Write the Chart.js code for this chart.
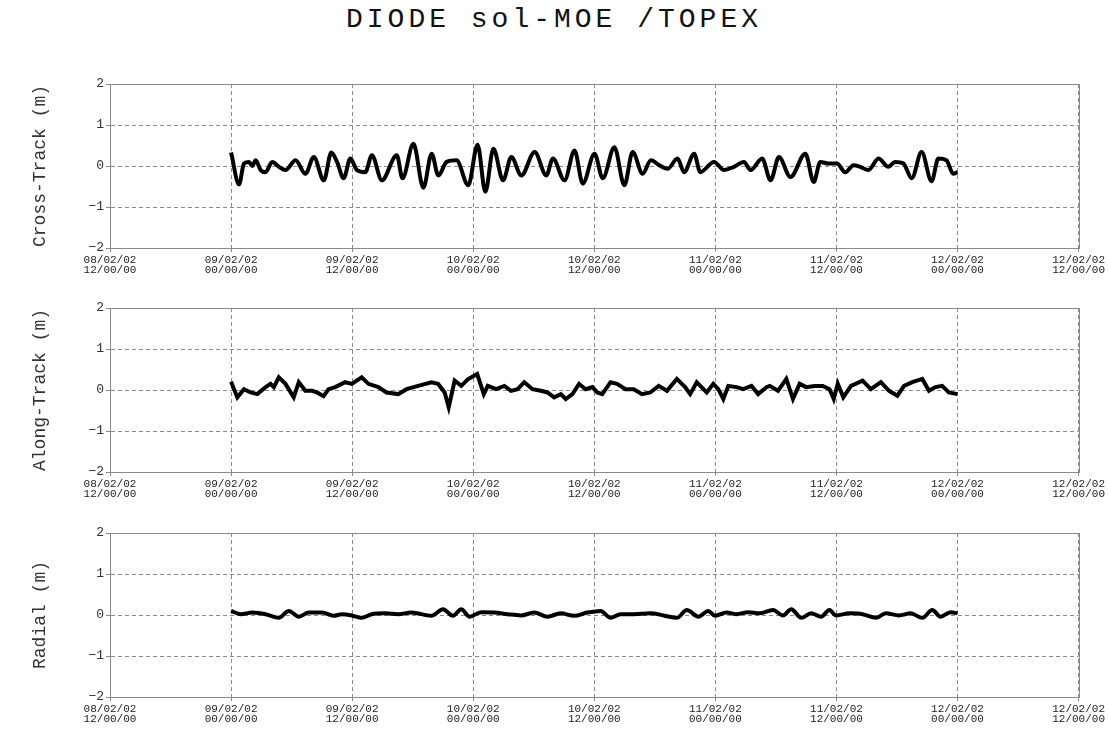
<!DOCTYPE html>
<html>
<head>
<meta charset="utf-8">
<script src="https://cdn.jsdelivr.net/npm/chart.js@4.4.0/dist/chart.umd.min.js"></script>
<style>
  body { margin: 0; background: #fff; width: 1108px; height: 731px; position: relative; overflow: hidden; }
  #title { position: absolute; left: 0; top: 4px; width: 1108px; text-align: center;
           font-family: "Liberation Mono", "DejaVu Sans Mono", monospace; font-size: 28px;
           letter-spacing: 4px; color: #111; }
  canvas { position: absolute; left: 0; }
</style>
</head>
<body>
<div id="title">DIODE sol-MOE /TOPEX</div>
<canvas id="crossChart" width="1108" height="218" style="top:70px"></canvas>
<canvas id="alongChart" width="1108" height="218" style="top:294px"></canvas>
<canvas id="radialChart" width="1108" height="218" style="top:519px"></canvas>
<script>
// temps en heures depuis le 09/02/02 00:00:00
const tickDays = ['08/02/02', '09/02/02', '09/02/02', '10/02/02', '10/02/02', '11/02/02', '11/02/02', '12/02/02', '12/02/02'];
const tickHours = ['12/00/00', '00/00/00', '12/00/00', '00/00/00', '12/00/00', '00/00/00', '12/00/00', '00/00/00', '12/00/00'];
const yTickLabels = ['\u22122', '\u22121', '0', '1', '2'];

const crossT = [0, 0.79, 1.28, 1.78, 2.11, 2.44, 2.93, 3.42, 4.08, 4.74, 5.4, 6.39, 7.37, 8.2, 9.19, 9.94, 10.5, 11.16, 11.82, 12.48,
  13.3, 13.96, 14.94, 16.43, 16.99, 18.07, 19.06, 19.88, 20.54, 21.37, 22.35, 23.51, 24.43, 25.2, 26.0, 26.96, 27.78, 28.77, 30.09, 31.24,
  31.9, 33.05, 34.04, 34.86, 36.02, 36.84, 37.99, 38.98, 39.8, 40.79, 41.61, 42.44, 43.26, 44.25, 44.9, 45.9, 46.5, 47.87, 48.86, 49.84,
  50.83, 51.49, 52.64, 53.47, 54.3, 55.44, 56.92, 57.75, 58.4, 59.23, 60.05, 60.87, 61.7, 62.35, 63.17, 64.17, 65.15, 65.81, 66.64, 67.46,
  68.44, 69.43, 70.1, 70.9, 71.57, 72];
const crossV = [0.33, -0.45, 0.06, 0.10, 0.00, 0.14, -0.10, -0.15, 0.10, -0.02, -0.10, 0.14, -0.19, 0.22, -0.35, 0.33, 0.10, -0.30, 0.18, -0.10,
  -0.15, 0.26, -0.35, 0.26, -0.30, 0.54, -0.53, 0.30, -0.23, 0.10, 0.14, -0.47, 0.52, -0.63, 0.42, -0.35, 0.22, -0.23, 0.34, -0.23,
  0.18, -0.35, 0.38, -0.43, 0.30, -0.30, 0.46, -0.47, 0.34, -0.19, 0.14, 0.02, -0.07, 0.18, -0.15, 0.30, -0.15, 0.10, -0.10, -0.02,
  0.10, -0.10, 0.18, -0.35, 0.22, -0.27, 0.30, -0.39, 0.10, 0.06, 0.06, -0.15, 0.02, -0.02, -0.10, 0.18, -0.02, 0.10, 0.06, -0.30,
  0.34, -0.37, 0.18, 0.14, -0.19, -0.15];

const alongT = [0, 0.62, 1.28, 1.94, 2.6, 3.42, 3.91, 4.24, 4.73, 5.39, 6.21, 6.71, 7.36, 8.02, 8.51, 9.17, 9.66, 10.32, 11.31, 11.96,
  12.95, 13.61, 14.6, 15.41, 16.57, 17.39, 18.54, 19.86, 20.51, 21.17, 21.57, 22.16, 22.81, 23.47, 24.39, 25.05, 25.44, 26.27, 27.09, 27.74,
  28.4, 29.06, 29.88, 30.7, 31.36, 32.02, 32.68, 33.17, 33.83, 34.49, 35.14, 35.8, 36.29, 36.79, 37.61, 38.26, 39.09, 39.91, 40.73, 41.55,
  42.38, 43.2, 44.18, 45.0, 45.5, 46.15, 47.14, 47.8, 48.29, 48.79, 49.28, 50.1, 50.76, 51.58, 52.24, 53.06, 53.39, 54.21, 55.03, 55.69,
  56.35, 57.0, 57.83, 58.65, 59.31, 59.73, 60.13, 60.68, 61.44, 62.59, 63.41, 64.4, 65.22, 66.04, 66.7, 67.52, 68.51, 69.17, 69.82, 70.48,
  71.14, 72];
const alongV = [0.20, -0.18, 0.02, -0.06, -0.10, 0.07, 0.15, 0.07, 0.31, 0.15, -0.18, 0.19, -0.02, -0.02, -0.06, -0.15, 0.02, 0.07, 0.19, 0.15,
  0.31, 0.15, 0.07, -0.06, -0.10, 0.02, 0.10, 0.19, 0.15, -0.06, -0.42, 0.23, 0.10, 0.26, 0.39, -0.10, 0.10, 0.02, 0.10, -0.02,
  0.02, 0.19, 0.02, -0.02, -0.06, -0.18, -0.10, -0.22, -0.10, 0.15, 0.02, 0.07, -0.06, -0.10, 0.19, 0.15, 0.02, 0.02, -0.10, -0.06,
  0.10, -0.02, 0.27, 0.07, -0.10, 0.19, -0.06, 0.15, 0.02, -0.22, 0.10, 0.07, 0.02, 0.10, -0.10, 0.07, 0.10, -0.02, 0.27, -0.22,
  0.15, 0.07, 0.10, 0.10, 0.02, -0.22, 0.15, -0.18, 0.10, 0.23, 0.02, 0.19, -0.02, -0.14, 0.10, 0.19, 0.27, -0.02, 0.07, 0.10,
  -0.06, -0.10];

const radialT = [0, 0.95, 2.1, 3.42, 4.73, 5.72, 6.71, 7.69, 9.01, 10.16, 10.98, 11.97, 12.95, 13.94, 15.25, 16.57, 17.88, 19.86, 21.01, 21.99,
  22.81, 23.64, 24.79, 26.1, 27.42, 28.73, 30.05, 31.36, 32.68, 34.0, 35.31, 36.63, 37.61, 38.6, 39.91, 41.55, 42.87, 44.18, 45.17, 46.32,
  47.3, 47.96, 49.11, 50.1, 51.25, 52.4, 53.71, 54.7, 55.52, 56.51, 57.49, 58.48, 59.3, 59.96, 61.28, 62.59, 63.91, 64.89, 66.21, 67.36,
  68.51, 69.5, 70.32, 71.31, 72];
const radialV = [0.10, 0.02, 0.06, 0.02, -0.07, 0.10, -0.04, 0.06, 0.06, -0.02, 0.02, -0.01, -0.07, 0.02, 0.04, 0.02, 0.06, -0.02, 0.14, -0.02,
  0.14, -0.04, 0.07, 0.06, 0.02, -0.01, 0.06, -0.04, 0.04, -0.02, 0.06, 0.10, -0.07, 0.02, 0.02, 0.04, -0.01, -0.07, 0.12, -0.04,
  0.10, -0.02, 0.06, 0.02, 0.07, 0.04, 0.12, -0.01, 0.14, -0.07, 0.04, -0.04, 0.12, -0.01, 0.04, 0.02, -0.07, 0.04, -0.01, 0.04,
  -0.07, 0.12, -0.04, 0.07, 0.04];

const monoFont = '"Liberation Mono", "DejaVu Sans Mono", monospace';
const gridGrey = '#8a8a8a';

// cadre plein autour de la zone de tracé
const framePlugin = {
  id: 'frame',
  afterDatasetsDraw(chart) {
    const a = chart.chartArea, ctx = chart.ctx;
    ctx.save();
    ctx.strokeStyle = gridGrey;
    ctx.lineWidth = 1;
    ctx.strokeRect(Math.round(a.left) + 0.5, Math.round(a.top) + 0.5, Math.round(a.right - a.left), Math.round(a.bottom - a.top));
    ctx.restore();
  }
};

function makePanel(id, label, times, values, smooth) {
  new Chart(document.getElementById(id), {
    type: 'line',
    data: {
      datasets: [{
        data: times.map((t, i) => ({ x: t, y: values[i] })),
        borderColor: '#000',
        borderWidth: 4,
        pointRadius: 0,
        fill: false,
        cubicInterpolationMode: smooth ? 'monotone' : 'default',
        tension: 0
      }]
    },
    options: {
      responsive: false,
      animation: false,
      layout: { padding: { top: 14, right: 28, bottom: 0, left: 0 } },
      plugins: { legend: { display: false }, tooltip: { enabled: false } },
      scales: {
        x: {
          type: 'linear', min: -12, max: 84,
          afterFit: s => { s.height = 40; },
          grid: { color: gridGrey, tickLength: 4, tickColor: gridGrey },
          border: { color: gridGrey, dash: [4, 3] },
          ticks: {
            stepSize: 12, autoSkip: false, maxRotation: 0, padding: 3, color: '#222',
            font: { family: monoFont, size: 11, lineHeight: 0.9 },
            callback: v => { const i = Math.round((v + 12) / 12); return [tickDays[i], tickHours[i]]; }
          }
        },
        y: {
          min: -2, max: 2,
          afterFit: s => { s.width = 110; },
          grid: { color: gridGrey, tickLength: 4, tickColor: gridGrey },
          border: { color: gridGrey, dash: [4, 3] },
          title: { display: true, text: label, color: '#333', padding: { top: 29, bottom: 0 },
                   font: { family: monoFont, size: 18 } },
          ticks: {
            stepSize: 1, padding: 2, color: '#333',
            font: { family: monoFont, size: 13 },
            callback: v => yTickLabels[Math.round(v + 2)]
          }
        }
      }
    },
    plugins: [framePlugin]
  });
}

makePanel('crossChart', 'Cross-Track (m)', crossT, crossV, true);
makePanel('alongChart', 'Along-Track (m)', alongT, alongV, false);
makePanel('radialChart', 'Radial (m)', radialT, radialV, true);
</script>
</body>
</html>
